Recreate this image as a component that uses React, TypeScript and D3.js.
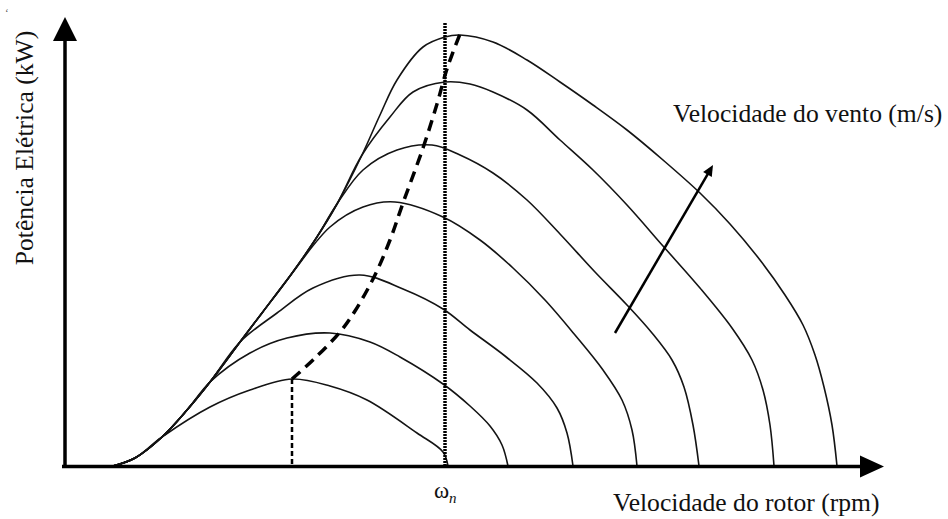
import React from 'react';
import * as d3 from 'd3';

const WIDTH = 948;
const HEIGHT = 519;

// Arbitrary units: x = rotor speed, y = electric power
// Common rising envelope (shared by all wind-speed curves)
const envelope: [number, number][] = [
  [48, 0], [70, 8], [97, 29], [122, 56], [145, 84], [175, 124], [197, 153], [225, 190],
  [250, 226], [272, 262], [297, 311], [315, 351], [332, 386], [358, 419], [380, 429], [395, 431],
];
// index of the envelope point where each wind-speed curve leaves the envelope
const branchIndex = [2, 4, 5, 7, 9, 10, 15];

const curveV1: [number, number][] = [[145, 59], [185, 76], [227, 87], [265, 80], [302, 66], [352, 33], [378, 14], [383, 0]];
const curveV2: [number, number][] = [[185, 113], [222, 128], [265, 133], [305, 124], [335, 109], [378, 82], [405, 60], [425, 40], [437, 21], [443, 0]];
const curveV3: [number, number][] = [[212, 153], [248, 178], [295, 191], [338, 177], [378, 157], [405, 136], [440, 110], [472, 83], [492, 58], [502, 33], [508, 0]];
const curveV4: [number, number][] = [[265, 239], [298, 259], [330, 264], [378, 249], [415, 226], [448, 198], [480, 166], [510, 131], [538, 96], [557, 66], [567, 36], [572, 0]];
const curveV5: [number, number][] = [[298, 296], [332, 316], [367, 321], [395, 311], [428, 293], [462, 266], [495, 232], [530, 194], [562, 161], [587, 133], [607, 106], [619, 79], [628, 41], [634, 0]];
const curveV6: [number, number][] = [[325, 349], [348, 374], [380, 384], [405, 382], [428, 374], [462, 356], [495, 326], [528, 296], [562, 261], [598, 220], [635, 178], [667, 138], [687, 106], [698, 76], [705, 41], [709, 0]];
const curveV7: [number, number][] = [[428, 424], [462, 406], [495, 384], [528, 361], [562, 336], [598, 306], [635, 273], [665, 242], [695, 206], [720, 171], [738, 141], [750, 111], [759, 79], [767, 41], [772, 0]];
const windCurves = [curveV1, curveV2, curveV3, curveV4, curveV5, curveV6, curveV7];

// maximum power point locus (dashed)
const mppt: [number, number][] = [
  [227, 87], [248, 106], [275, 134], [290, 155], [310, 191], [325, 226], [338, 263],
  [358, 318], [372, 362], [381, 394], [388, 414], [395, 432],
];

const nominalSpeed = 380; // ωn
const nominalLineTop = 443;
const windArrow: [number, number][] = [[550, 133], [648, 301]];

const xAxisTitle = 'Velocidade do rotor (rpm)';
const yAxisTitle = 'Potência Elétrica (kW)';
const windLabel = 'Velocidade do vento (m/s)';

const FONT = '"Liberation Serif", "Times New Roman", "DejaVu Serif", serif';

export default function App() {
  const x = d3.scaleLinear().domain([0, 820]).range([65, 885]);
  const y = d3.scaleLinear().domain([0, 450]).range([466, 16]);

  const line = d3
    .line<[number, number]>()
    .x((d) => x(d[0]))
    .y((d) => y(d[1]))
    .curve(d3.curveCatmullRom.alpha(0.5));

  const curves = windCurves.map((own, i) => envelope.slice(0, branchIndex[i] + 1).concat(own));

  const x0 = x(0);
  const y0 = y(0);
  const yTip = y(449);
  const xTip = x(819);

  // wind arrow
  const [a0, a1] = windArrow;
  const ax0 = x(a0[0]), ay0 = y(a0[1]), ax1 = x(a1[0]), ay1 = y(a1[1]);
  const len = Math.hypot(ax1 - ax0, ay1 - ay0);
  const ux = (ax1 - ax0) / len, uy = (ay1 - ay0) / len;
  const hl = 11, hw = 5;
  const bx = ax1 - ux * hl, by = ay1 - uy * hl;
  const head = `${ax1},${ay1} ${bx - uy * hw},${by + ux * hw} ${bx + uy * hw},${by - ux * hw}`;

  const mpptBase = mppt[0];
  const textStyle = { fontFamily: FONT } as React.CSSProperties;

  return (
    <svg
      width={WIDTH}
      height={HEIGHT}
      style={{ position: 'absolute', left: 0, top: 0, background: '#fff', display: 'block' }}
    >
      <rect width={WIDTH} height={HEIGHT} fill="#fff" />
      <text x={5} y={16} fontSize={11} style={textStyle} fill="#555">‘</text>

      {/* wind-speed curves */}
      {curves.map((pts, i) => (
        <path key={i} d={line(pts) || ''} fill="none" stroke="#141414" strokeWidth={1.6} />
      ))}

      {/* nominal speed dotted line */}
      <line
        x1={x(nominalSpeed)}
        x2={x(nominalSpeed)}
        y1={y(nominalLineTop)}
        y2={y0}
        stroke="#000"
        strokeWidth={3.5}
        strokeDasharray="2 1"
      />

      {/* MPPT dashed locus */}
      <path d={line(mppt) || ''} fill="none" stroke="#000" strokeWidth={3.5} strokeDasharray="11 7" />
      <line
        x1={x(mpptBase[0])}
        x2={x(mpptBase[0])}
        y1={y(mpptBase[1])}
        y2={y0}
        stroke="#000"
        strokeWidth={2.5}
        strokeDasharray="5 3"
      />

      {/* axes */}
      <line x1={x0} x2={x0} y1={y0 + 2} y2={yTip + 20} stroke="#000" strokeWidth={3.5} />
      <polygon points={`${x0},${yTip} ${x0 - 12},${yTip + 24} ${x0 + 12},${yTip + 24}`} fill="#000" />
      <line x1={x0 - 3} x2={xTip - 20} y1={y0 + 0.5} y2={y0 + 0.5} stroke="#000" strokeWidth={3.5} />
      <polygon points={`${xTip},${y0 + 0.5} ${xTip - 24},${y0 - 10.5} ${xTip - 24},${y0 + 11.5}`} fill="#000" />

      {/* wind arrow */}
      <line x1={ax0} y1={ay0} x2={bx + ux * 2} y2={by + uy * 2} stroke="#000" strokeWidth={2.5} />
      <polygon points={head} fill="#000" />

      {/* labels */}
      <text x={613} y={511} fontSize={25.6} style={textStyle} fill="#111">{xAxisTitle}</text>
      <text
        transform="translate(33,148) rotate(-90)"
        textAnchor="middle"
        fontSize={25.6}
        style={textStyle}
        fill="#111"
      >
        {yAxisTitle}
      </text>
      <text x={673} y={122} fontSize={25.6} style={textStyle} fill="#111">{windLabel}</text>
      <text x={x(nominalSpeed) - 11} y={498} fontSize={23} style={textStyle} fill="#111">ω</text>
      <text x={x(nominalSpeed) + 4} y={503} fontSize={15} fontStyle="italic" style={textStyle} fill="#111">n</text>
    </svg>
  );
}
